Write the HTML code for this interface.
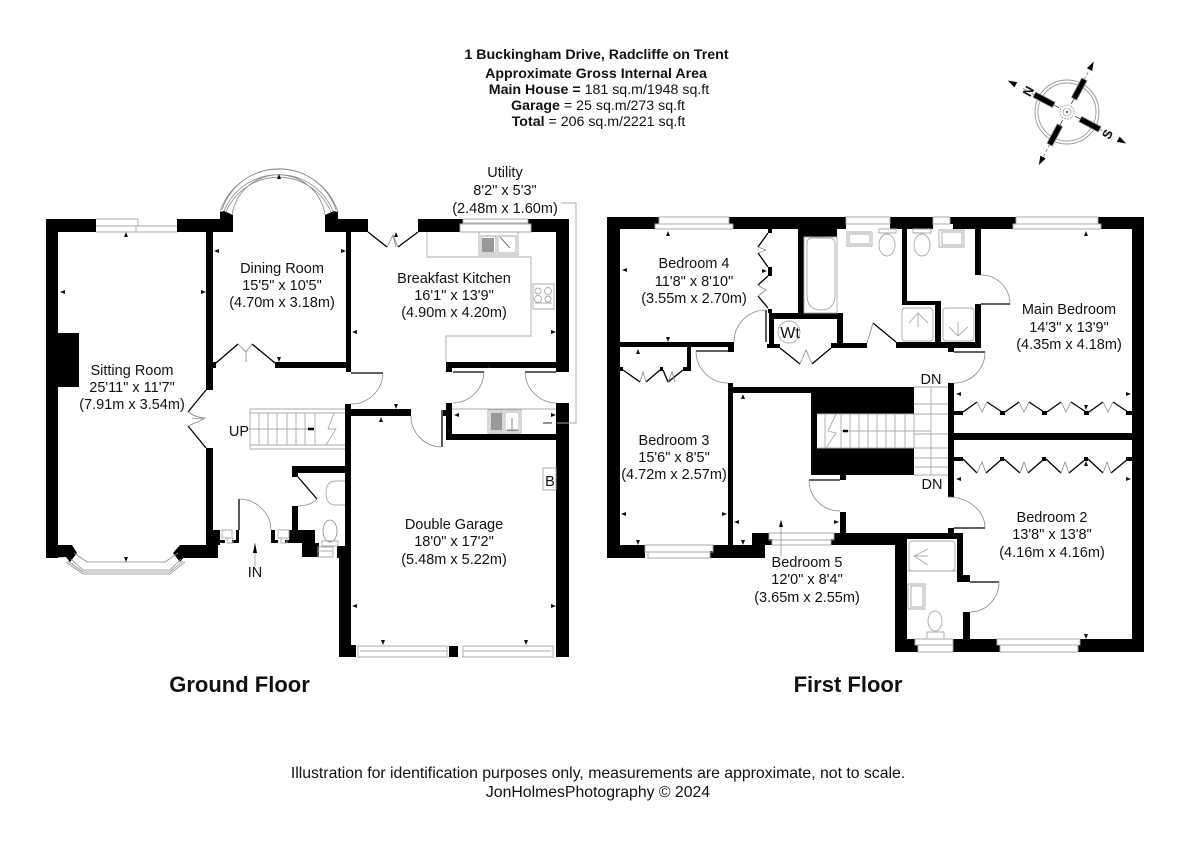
<!DOCTYPE html>
<html><head><meta charset="utf-8"><style>
html,body{margin:0;padding:0;background:#fff}
svg{display:block}
text{font-family:"Liberation Sans",sans-serif;font-size:14.5px;fill:#111;text-anchor:middle}
.h{font-size:14.2px}
.b{font-weight:bold}
.f{font-size:22px;font-weight:bold}
.ft{font-size:15.8px}
.w rect,.w polygon{fill:#000;stroke:none}
.g{fill:none;stroke:#aaa;stroke-width:.9}
.d{fill:none;stroke:#000;stroke-width:1.3}
.a{fill:none;stroke:#888;stroke-width:.8}
.t{fill:#111;stroke:none}
</style></head><body>
<svg width="1200" height="848" viewBox="0 0 1200 848" xmlns="http://www.w3.org/2000/svg">

<!-- HEADER -->
<text class="h b" x="596.500" y="59">1 Buckingham Drive, Radcliffe on Trent</text>
<text class="h b" x="596" y="78">Approximate Gross Internal Area</text>
<text class="h" x="599" y="94"><tspan font-weight="bold">Main House =</tspan> 181 sq.m/1948 sq.ft</text>
<text class="h" x="598" y="110"><tspan font-weight="bold">Garage</tspan> = 25 sq.m/273 sq.ft</text>
<text class="h" x="598.500" y="126"><tspan font-weight="bold">Total</tspan> = 206 sq.m/2221 sq.ft</text>

<!-- COMPASS -->
<g transform="translate(1067 112)">
<circle r="32" fill="none" stroke="#999" stroke-width=".9"/>
<circle r="29" fill="none" stroke="#999" stroke-width=".9"/>
<circle r="7" fill="none" stroke="#888" stroke-width=".7" stroke-dasharray="2 1"/>
<circle r="4" fill="none" stroke="#888" stroke-width=".6"/>
<circle r="1" fill="#333"/>
<g transform="rotate(-152)">
<rect x="15" y="-3" width="22" height="6" fill="#000" stroke="#999" stroke-width=".8"/><path d="M37 0H50" stroke="#666" stroke-width=".7" stroke-dasharray="3 2" fill="none"/><path d="M67 0l-9 3v-6z" fill="#000"/><path d="M9 0H15" stroke="#333" stroke-width=".7"/>
</g>
<g transform="rotate(-62)">
<rect x="15" y="-3" width="22" height="6" fill="#000" stroke="#999" stroke-width=".8"/><path d="M37 0H47" stroke="#666" stroke-width=".7" stroke-dasharray="3 2" fill="none"/><path d="M57 0l-9 3v-6z" fill="#000"/><path d="M9 0H15" stroke="#333" stroke-width=".7"/>
</g>
<g transform="rotate(28)">
<rect x="15" y="-3" width="22" height="6" fill="#000" stroke="#999" stroke-width=".8"/><path d="M37 0H50" stroke="#666" stroke-width=".7" stroke-dasharray="3 2" fill="none"/><path d="M67 0l-9 3v-6z" fill="#000"/><path d="M9 0H15" stroke="#333" stroke-width=".7"/>
</g>
<g transform="rotate(118)">
<rect x="15" y="-3" width="22" height="6" fill="#000" stroke="#999" stroke-width=".8"/><path d="M37 0H50" stroke="#666" stroke-width=".7" stroke-dasharray="3 2" fill="none"/><path d="M60 0l-9 3v-6z" fill="#000"/><path d="M9 0H15" stroke="#333" stroke-width=".7"/>
</g>
</g>
<text x="1028" y="95" style="font-size:13px;font-weight:bold" transform="rotate(118 1028 91)">N</text>
<text x="1107" y="139" style="font-size:13px;font-weight:bold" transform="rotate(-62 1107 134)">S</text>

<!-- WALLS -->
<g class="w">
<!-- ground -->
<rect x="46" y="219" width="12" height="339"/>
<rect x="46" y="219" width="50" height="13"/>
<rect x="58" y="333" width="21" height="54"/>
<polygon points="46,545 72,545 77,553 70,562 66,557 46,558"/>
<rect x="177" y="219" width="56" height="13"/>
<polygon points="220,212 224,211 233,215 233,232 220,232"/>
<rect x="206" y="232" width="7" height="158"/>
<rect x="213" y="362" width="3" height="6"/>
<polygon points="325,232 325,215 334,211 338,212 338,219 368,219 368,232"/>
<rect x="346" y="232" width="5" height="140"/>
<rect x="275" y="362" width="71" height="6"/>
<rect x="418" y="219" width="42" height="13"/>
<rect x="460" y="219" width="3" height="5"/>
<rect x="528" y="219" width="41" height="5"/>
<rect x="531" y="224" width="38" height="8"/>
<rect x="556" y="219" width="13" height="153"/>
<rect x="446" y="362" width="110" height="6"/>
<rect x="446" y="362" width="6" height="10"/>
<rect x="556" y="403" width="13" height="254"/>
<rect x="446" y="403" width="6" height="37"/>
<rect x="446" y="434" width="110" height="6"/>
<rect x="443" y="410" width="6" height="6"/>
<rect x="345" y="404" width="6" height="151"/>
<rect x="345" y="409" width="66" height="7"/>
<rect x="339" y="555" width="12" height="102"/>
<rect x="351" y="645" width="5" height="12"/>
<rect x="206" y="448" width="7" height="97"/>
<rect x="180" y="545" width="38" height="13"/>
<rect x="206" y="530" width="14" height="15"/>
<rect x="218" y="540" width="7" height="3"/>
<polygon points="180,545 173,553 180,562 184,557 190,557 190,545"/>
<rect x="236" y="530" width="3" height="13"/>
<rect x="232" y="540" width="4" height="3"/>
<rect x="271" y="530" width="4" height="13"/>
<rect x="275" y="540" width="3" height="3"/>
<rect x="289" y="530" width="26" height="13"/>
<rect x="285" y="540" width="4" height="3"/>
<rect x="292" y="506" width="6" height="24"/>
<rect x="302" y="543" width="17" height="14"/>
<rect x="292" y="466" width="53" height="7"/>
<rect x="292" y="466" width="6" height="11"/>
<rect x="337" y="546" width="8" height="12"/>
<!-- first -->
<rect x="607" y="217" width="13" height="341"/>
<rect x="607" y="217" width="52" height="7"/>
<rect x="607" y="224" width="48" height="5"/>
<rect x="729" y="217" width="117" height="7"/>
<rect x="733" y="224" width="113" height="5"/>
<rect x="798" y="224" width="39" height="13"/>
<rect x="837" y="224" width="9" height="5"/>
<rect x="798" y="229" width="6" height="84"/>
<rect x="890" y="217" width="43" height="12"/>
<rect x="950" y="217" width="66" height="7"/>
<rect x="953" y="224" width="60" height="5"/>
<rect x="1098" y="217" width="46" height="7"/>
<rect x="1101" y="224" width="43" height="5"/>
<rect x="1132" y="217" width="12" height="435"/>
<rect x="902" y="229" width="5" height="76"/>
<rect x="902" y="301" width="39" height="4"/>
<rect x="935" y="301" width="6" height="41"/>
<rect x="975" y="229" width="6" height="46"/>
<rect x="975" y="304" width="6" height="38"/>
<rect x="896" y="342" width="85" height="6"/>
<rect x="948" y="342" width="6" height="10"/>
<rect x="948" y="383" width="6" height="114"/>
<rect x="954" y="433" width="178" height="7"/>
<rect x="948" y="528" width="6" height="5"/>
<rect x="620" y="342" width="108" height="5"/>
<rect x="728" y="342" width="6" height="10"/>
<rect x="687" y="347" width="4" height="24"/>
<rect x="683" y="367" width="8" height="4"/>
<rect x="620" y="367" width="3" height="4"/>
<rect x="660" y="367" width="3" height="4"/>
<rect x="769" y="313" width="5" height="35"/>
<rect x="769" y="313" width="74" height="6"/>
<rect x="837" y="313" width="6" height="35"/>
<rect x="767" y="344" width="13" height="4"/>
<rect x="831" y="343" width="36" height="5"/>
<rect x="768" y="229" width="4" height="4"/>
<rect x="768" y="267" width="4" height="9"/>
<rect x="768" y="309" width="4" height="4"/>
<rect x="607" y="545" width="38" height="13"/>
<rect x="713" y="545" width="52" height="13"/>
<rect x="710" y="551" width="3" height="7"/>
<rect x="728" y="383" width="5" height="162"/>
<rect x="728" y="387" width="186" height="6"/>
<rect x="811" y="387" width="103" height="27"/>
<rect x="811" y="414" width="6" height="34"/>
<rect x="811" y="448" width="103" height="27"/>
<rect x="840" y="475" width="6" height="5"/>
<rect x="840" y="512" width="6" height="21"/>
<rect x="752" y="533" width="17" height="12"/>
<rect x="765" y="539" width="7" height="6"/>
<rect x="834" y="533" width="129" height="6"/>
<rect x="831" y="539" width="64" height="6"/>
<rect x="895" y="533" width="12" height="119"/>
<rect x="957" y="533" width="6" height="42"/>
<rect x="957" y="575" width="13" height="7"/>
<rect x="963" y="612" width="7" height="27"/>
<rect x="895" y="639" width="20" height="13"/>
<rect x="895" y="645" width="23" height="7"/>
<rect x="953" y="639" width="44" height="13"/>
<rect x="997" y="645" width="3" height="7"/>
<rect x="1080" y="639" width="52" height="13"/>
<rect x="1078" y="645" width="54" height="7"/>
<rect x="954" y="411" width="9" height="4"/>
<rect x="1000" y="411" width="5" height="4"/>
<rect x="1042" y="411" width="5" height="4"/>
<rect x="1084" y="411" width="5" height="4"/>
<rect x="1126" y="411" width="6" height="4"/>
<rect x="954" y="457" width="9" height="4"/>
<rect x="1000" y="457" width="4" height="4"/>
<rect x="1042" y="457" width="4" height="4"/>
<rect x="1084" y="457" width="4" height="4"/>
<rect x="1126" y="457" width="6" height="4"/>
<rect x="449" y="646" width="9" height="11"/>
</g>

<!-- Ground floor door leaves -->
<path class="d" d="M368 232L387 247M418 232L398 247M216 363L238 344M275 363L252 344M206 390L188 412M206 448L188 426M239 499V530M298 477L317 499"/>
<path class="d" d="M351 373H383M453 372H484M525 372H556" stroke-width="1.6"/>
<path class="d" d="M442 410V447" stroke-width="1.6"/>
<path class="a" d="M383 373A32 32 0 0 1 351 404M484 372A32 32 0 0 1 453 403M525 372A32 32 0 0 0 556 403M411 416A31 31 0 0 0 441 447M239 499A32 32 0 0 1 271 530M317 499Q310 506 298 506M188 412Q196 418 206 418M188 426L204 419L192 418M387 247L393 235L396 247M398 247L393 235M238 344L246 352L246 362M252 344L246 352"/>
<path class="g" d="M96 219H138V226H96M177 232H136V226H177M96 232H136"/>
<path class="a" d="M232 215A47 47 0 0 1 325 215M224 211A59 59 0 0 1 333 211M222 210A60 60 0 0 1 336 210M220 212A62 62 0 0 1 338 212M226 212A57 57 0 0 1 331 212"/>
<path class="a" d="M74 553L87 562H165L178 553M71 559L83 570H170L181 559M68 561L83 572H170L183 561M66 562L83 574H170L185 562"/>
<path class="g" d="M222 530H232V538H222ZM227 538H233V543H227ZM278 530H289V538H278ZM281 538H287V543H281ZM318 547H333V557H318ZM318 551H333"/>
<path class="g" d="M463 219H528V223H463ZM460 224H531V232H460Z"/>
<path class="g" d="M427 232V257H531V336H446V362M452 409H556"/>
<path class="g" d="M479 232H518V255H479ZM481 236H496V253H481ZM498 236H516V253H498ZM533 284H554V309H533ZM535 303H552"/>
<rect x="482" y="238" width="12" height="14" fill="#999"/>
<circle cx="538" cy="291" r="3" class="g"/><circle cx="548" cy="291" r="3.500" class="g"/><circle cx="538" cy="299" r="3.500" class="g"/><circle cx="548" cy="299" r="3" class="g"/>
<path d="M500 237L510 248" stroke="#555" stroke-width=".8"/>
<path class="g" d="M488 410H521V433H488ZM490 412H503V431H490ZM505 412H519V431H505Z"/>
<rect x="491" y="413" width="11" height="17" fill="#999"/>
<path d="M512 418V430M507 430H518" stroke="#777" stroke-width=".9"/>
<path class="g" d="M561 203H576V423H557"/>
<path d="M543 423H552" stroke="#222"/>
<path class="g" d="M543 468H556V490H543Z"/>
<path class="g" d="M358 646H447V657H358ZM360 651H447M463 646H553V657H463ZM463 651H551"/>
<path class="g" d="M250 409H345M250 413H345M250 445H345M250 449H345M250 409V449M259 413V445M268 413V445M277 413V445M287 413V445M296 413V445M305 413V445M315 413V445M250 429H309M334 413L328 429L336 429L326 445"/>
<path d="M308 429H314" stroke="#000" stroke-width="2.500"/>
<path class="g" d="M345 481H336Q326 481 326 493Q326 505 336 505H345"/>
<ellipse class="a" cx="330" cy="531" rx="7" ry="11"/>
<path class="g" d="M322 541H338V546H322Z"/>
<path d="M255 543V567" stroke="#888" stroke-width=".7"/><path d="M255 543l2 10h-4z" fill="#000"/>

<!-- First-floor door leaves -->
<path class="d" d="M780 348L800 364M831 348L812 364M873 323L896 342"/>
<path class="d" stroke-width="1.600" d="M766 310V342M696 351H728M981 304H1010M954 352H985M809 480H840M954 528H985M970 582H999"/>
<path class="a" d="M766 310A32 32 0 0 0 734 342M696 351A32 32 0 0 0 728 383M981 275A29 29 0 0 1 1010 304M985 352A31 31 0 0 1 954 383M809 480A31 31 0 0 0 840 511M985 528A37 31 0 0 0 948 497M999 582A29 30 0 0 1 970 612M867 343L873 323"/>
<path class="d" d="M768 233L758 247M768 267L758 253M768 276L758 285M768 308L758 296"/>
<path class="a" d="M758 247L766 250L758 253M758 285L766 290L758 296M800 364L806 350L812 364"/>
<path class="d" d="M623 370L640 382M660 370L646 382M663 370L668 382M683 370L668 382"/>
<path class="a" d="M640 382L643 372L646 382M668 382L672 372L675 382"/>
<path class="d" d="M963 412L977 402M1002 412L987 402M1005 412L1019 402M1044 412L1029 402M1047 412L1061 402M1086 412L1071 402M1089 412L1103 402M1128 412L1113 402"/>
<path class="a" d="M977 402L982 412L987 402M1019 402L1024 412L1029 402M1061 402L1066 412L1071 402M1103 402L1108 412L1113 402"/>
<path class="d" d="M963 459L977 473M1002 459L986 473M1004 459L1020 473M1044 459L1028 473M1046 459L1061 473M1086 459L1069 473M1088 459L1103 473M1128 459L1111 473"/>
<path class="a" d="M977 473L982 462L986 473M1020 473L1024 462L1028 473M1061 473L1065 462L1069 473M1103 473L1107 462L1111 473"/>
<path class="g" d="M659 217H729V224H659ZM655 224H733V229H655ZM846 217H890V224H846ZM933 217H950V224H933ZM1016 217H1098V224H1016ZM1013 224H1101V229H1013ZM645 545H713V552H645ZM648 552H710V558H648ZM769 533H834V540H769ZM772 540H831V545H772ZM915 639H953V645H915ZM918 645H953V652H918ZM997 639H1080V645H997ZM1000 645H1078V652H1000Z"/>
<circle cx="789" cy="332" r="11" class="g"/>
<path class="g" d="M804 237V313H837V237ZM807 244Q807 238 812 238H829Q835 238 835 244V295Q835 310 821 310Q807 310 807 295Z"/>
<path class="g" d="M847 232H872V246H847ZM849 234H870V244H849Z"/>
<ellipse class="g" cx="887" cy="245" rx="8" ry="11"/><path class="g" d="M879 229H896V233H879Z"/>
<ellipse class="g" cx="922" cy="245" rx="8" ry="11"/><path class="g" d="M913 229H931V233H913Z"/>
<path class="g" d="M939 230H964V247H939ZM942 232H962V245H942Z"/>
<rect class="g" x="902" y="308" width="31" height="33" rx="3"/><rect class="g" x="943" y="308" width="31" height="33" rx="3"/>
<path class="g" d="M909 323L918 313L928 323M918 313V327M949 327L958 336L968 327M958 336V322"/>
<path class="g" d="M817 414H914M817 448H914M914 387H948M914 475H948M914 404H948M914 414H948M914 434H948M914 448H948M914 458H948M914 467H948M931 387V475M825 414V448M841 414V448M850 414V448M859 414V448M868 414V448M877 414V448M886 414V448M895 414V448M905 414V448M914 414V448M841 431H931M836 414L828 431L836 433L826 448"/>
<path d="M843 431H848" stroke="#000" stroke-width="2.500"/>
<rect class="g" x="909" y="541" width="46" height="30" rx="3"/>
<path class="g" d="M928 549L914 556L928 565M914 556H928M907 571H957M908 584H925V609H908ZM911 586H923V607H911Z"/>
<ellipse class="g" cx="935" cy="621" rx="7" ry="10"/><path class="g" d="M927 632H944V639H927Z"/>
<path d="M781 520V556" stroke="#888" stroke-width=".7"/><path d="M781 520l2 7h-4z" fill="#000"/>

<!-- tick marks -->
<path class="t" d="M126 232l2 5h-4zM60 292l5 2v-4zM206 292l-5 2v-4zM279 174l2 5h-4zM214 251l5 2v-4zM346 251l-5 2v-4zM279 362l2 -5h-4zM352 332l5 2v-4zM556 332l-5 2v-4zM396 232l2 5h-4zM489 363l2 5h-4zM396 409l2 -5h-4zM381 417l2 5h-4zM454 415l5 2v-4zM556 415l-5 2v-4zM449 434l2 -5h-4zM352 606l5 2v-4zM556 606l-5 2v-4zM126 562l2 -5h-4zM383 645l2 -5h-4zM526 645l2 -5h-4z
M668 231l2 5h-4zM622 270l5 2v-4zM767 271l-5 2v-4zM668 342l2 -5h-4zM638 349l2 5h-4zM621 514l5 2v-4zM727 514l-5 2v-4zM638 545l2 -5h-4zM743 394l2 5h-4zM734 522l5 2v-4zM839 522l-5 2v-4zM743 545l2 -5h-4zM1086 231l2 5h-4zM956 394l5 2v-4zM1131 394l-5 2v-4zM1086 410l2 -5h-4zM1086 461l2 5h-4zM956 479l5 2v-4zM1131 479l-5 2v-4zM1086 639l2 -5h-4z"/>

<!-- LABELS -->
<text x="132" y="375">Sitting Room</text><text x="132" y="392">25'11" x 11'7"</text><text x="132" y="409">(7.91m x 3.54m)</text>
<text x="282" y="273">Dining Room</text><text x="282" y="290">15'5" x 10'5"</text><text x="282" y="307">(4.70m x 3.18m)</text>
<text x="454" y="283">Breakfast Kitchen</text><text x="454" y="300">16'1" x 13'9"</text><text x="454" y="317">(4.90m x 4.20m)</text>
<text x="505" y="177">Utility</text><text x="505" y="195">8'2" x 5'3"</text><text x="505" y="213">(2.48m x 1.60m)</text>
<text x="454" y="529">Double Garage</text><text x="454" y="546">18'0" x 17'2"</text><text x="454" y="564">(5.48m x 5.22m)</text>
<text x="255" y="577">IN</text><text x="239" y="436">UP</text><text x="550" y="486">B</text>
<text x="694" y="268">Bedroom 4</text><text x="694" y="286">11'8" x 8'10"</text><text x="694" y="303">(3.55m x 2.70m)</text>
<text x="1069" y="314">Main Bedroom</text><text x="1069" y="332">14'3" x 13'9"</text><text x="1069" y="349">(4.35m x 4.18m)</text>
<text x="674" y="445">Bedroom 3</text><text x="674" y="462">15'6" x 8'5"</text><text x="674" y="479">(4.72m x 2.57m)</text>
<text x="807" y="567">Bedroom 5</text><text x="807" y="584">12'0" x 8'4"</text><text x="807" y="602">(3.65m x 2.55m)</text>
<text x="1052" y="522">Bedroom 2</text><text x="1052" y="539">13'8" x 13'8"</text><text x="1052" y="557">(4.16m x 4.16m)</text>
<text x="790" y="338" style="font-size:16px">Wt</text>
<text x="931" y="384">DN</text><text x="932" y="489">DN</text>
<text class="f" x="239.500" y="692">Ground Floor</text>
<text class="f" x="848" y="692">First Floor</text>
<text class="ft" x="598" y="778">Illustration for identification purposes only, measurements are approximate, not to scale.</text>
<text class="ft" x="598" y="797">JonHolmesPhotography © 2024</text>
</svg>
</body></html>
